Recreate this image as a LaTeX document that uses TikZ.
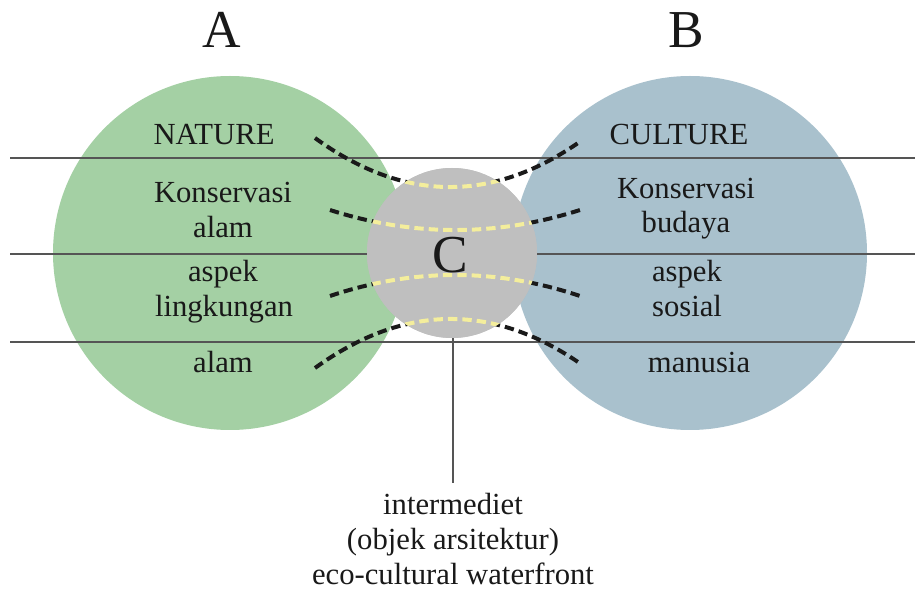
\documentclass[tikz,border=0pt]{standalone}
\usepackage{fontspec}
\setmainfont{Liberation Serif}
\definecolor{natgreen}{HTML}{A4D0A4}
\definecolor{culblue}{HTML}{A9C1CD}
\definecolor{midgray}{HTML}{BFBFBF}
\definecolor{rulegray}{HTML}{555555}
\definecolor{dashyellow}{HTML}{F4EE9C}
\definecolor{dashblack}{HTML}{1A1A1A}
\begin{document}
\begin{tikzpicture}[x=0.75pt,y=-0.75pt,
  lbl/.style={anchor=base,inner sep=0pt,font=\fontsize{23}{26}\selectfont,text=black!90},
  big/.style={anchor=base,inner sep=0pt,font=\fontsize{40}{44}\selectfont,text=black!90},
  rule/.style={draw=rulegray,line width=1pt},
  blackdash/.style={draw=dashblack,line width=3pt,dash pattern=on 7pt off 3.8pt},
  yellowdash/.style={draw=dashyellow,line width=3pt,dash pattern=on 7pt off 3.8pt}]
\useasboundingbox (0,0) rectangle (915,591);
% circles
\fill[natgreen] (230,253) circle (177);
\fill[culblue] (690,253) circle (177);
\fill[midgray] (452,253) circle (85);
% horizontal rules
\coordinate (l1) at (10,158); \coordinate (r1) at (915,158);
\coordinate (l2) at (10,254); \coordinate (r2) at (915,254);
\coordinate (l3) at (10,342); \coordinate (r3) at (915,342);
\draw[rule] (l1) -- (r1);
\draw[rule] (l2) -- (r2);
\draw[rule] (l3) -- (r3);
% vertical leader
\coordinate (cbot) at (453,338);
\coordinate (vend) at (453,483);
\draw[rule] (cbot) -- (vend);
% dashed curves endpoints
\coordinate (a1) at (315,138); \coordinate (b1) at (578,143);
\coordinate (a2) at (330,210); \coordinate (b2) at (580,210);
\coordinate (a3) at (330,296); \coordinate (b3) at (580,296);
\coordinate (a4) at (315,368); \coordinate (b4) at (578,362);
\def\curves#1{%
  \draw[#1] (a1) .. controls (402.7,201.7) and (490.3,203.3) .. (b1);
  \draw[#1] (a2) .. controls (413.3,236.7) and (496.7,236.7) .. (b2);
  \draw[#1] (a3) .. controls (413.3,268) and (496.7,268) .. (b3);
  \draw[#1] (a4) .. controls (402.7,304.7) and (490.3,302.7) .. (b4);}
\curves{blackdash}
\begin{scope}
  \clip (452,253) circle (85);
  \fill[midgray] (452,253) circle (86);
  \curves{yellowdash}
\end{scope}
% big letters
\node[big] (A) at (222,48) {A};
\node[big] (B) at (686,48) {B};
\node[big] (C) at (450,273) {C};
% left labels
\node[lbl] (nat) at (214,145) {NATURE};
\node[lbl] (kon1) at (223,203) {Konservasi};
\node[lbl] (alam1) at (223,238) {alam};
\node[lbl] (asp1) at (223,282) {aspek};
\node[lbl] (ling) at (224,317) {lingkungan};
\node[lbl] (alam2) at (223,373) {alam};
% right labels
\node[lbl] (cul) at (679,145) {CULTURE};
\node[lbl] (kon2) at (686,199) {Konservasi};
\node[lbl] (bud) at (686,233) {budaya};
\node[lbl] (asp2) at (687,282) {aspek};
\node[lbl] (sos) at (687,317) {sosial};
\node[lbl] (man) at (699,373) {manusia};
% bottom labels
\node[lbl] (int) at (453,515) {intermediet};
\node[lbl] (obj) at (453,550) {(objek arsitektur)};
\node[lbl] (eco) at (453,585) {eco-cultural waterfront};
\end{tikzpicture}
\end{document}
